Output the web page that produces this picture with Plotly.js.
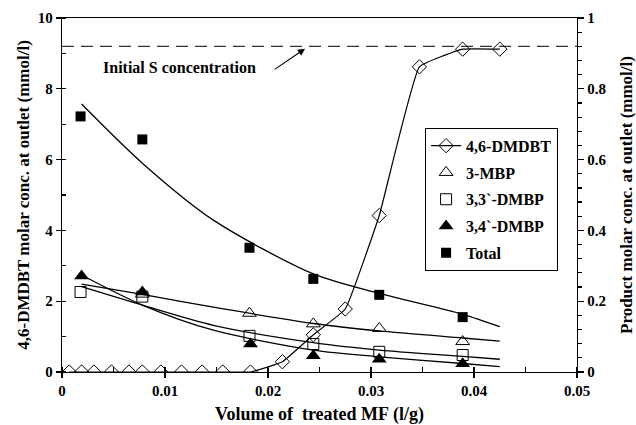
<!DOCTYPE html>
<html><head><meta charset="utf-8">
<script src="https://cdn.plot.ly/plotly-3.0.1.min.js"></script>
<style>html,body{margin:0;padding:0;background:#fff}#c{width:636px;height:425px}</style>
</head><body><div id="c"></div>
<script>
// 4,6-DMDBT (left axis, mmol/l)
const dmdbtX = [0.0007,0.0019,0.0031,0.0048,0.0065,0.0078,0.0096,0.0116,0.0136,0.0156,0.0183,0.0214,0.0244,0.0275,0.0308,0.0347,0.0389,0.0425];
const dmdbtY = [0,0,0,0,0,0,0,0,0,0,0,0.29,1.05,1.78,4.42,8.62,9.12,9.12];

// Products (right axis, mmol/l)
const mbpX = [0.0078,0.0182,0.0244,0.0308,0.0389];
const mbpY = [0.22,0.166,0.136,0.123,0.086];
const dmbp33X = [0.0018,0.0078,0.0182,0.0244,0.0308,0.0389];
const dmbp33Y = [0.226,0.213,0.102,0.079,0.057,0.048];
const dmbp34X = [0.0019,0.0078,0.0183,0.0244,0.0308,0.0389];
const dmbp34Y = [0.271,0.226,0.079,0.046,0.036,0.023];
const totalX = [0.0018,0.0078,0.0182,0.0244,0.0308,0.0389];
const totalY = [0.722,0.657,0.351,0.263,0.218,0.155];

// Trend curves (right axis)
const fitX = [0.0019,0.0078,0.0147,0.0244,0.0308,0.0389,0.0425];
const fitTotal = [0.757,0.59,0.429,0.277,0.222,0.163,0.128];
const fitMbp = [0.248,0.219,0.183,0.137,0.116,0.096,0.087];
const fit33 = [0.241,0.189,0.132,0.083,0.062,0.044,0.036];
const fit34 = [0.274,0.189,0.118,0.062,0.043,0.024,0.015];

// Initial S concentration (left axis)
const initX = [0, 0.05];
const initY = [9.2, 9.2];

const F = 'Liberation Serif';
const fitLine = {color:'#000', width:1.3, shape:'spline', smoothing:0.8};

const traces = [
  {x:initX, y:initY, mode:'lines', line:{color:'#333', width:1.3, dash:'12px,7px'}, showlegend:false, hoverinfo:'skip'},
  {x:fitX, y:fitTotal, yaxis:'y2', mode:'lines', line:fitLine, showlegend:false},
  {x:fitX, y:fitMbp, yaxis:'y2', mode:'lines', line:fitLine, showlegend:false},
  {x:fitX, y:fit33, yaxis:'y2', mode:'lines', line:fitLine, showlegend:false},
  {x:fitX, y:fit34, yaxis:'y2', mode:'lines', line:fitLine, showlegend:false},
  {x:dmdbtX, y:dmdbtY, name:'4,6-DMDBT', legendgroup:'a', mode:'lines+markers', line:{color:'#000', width:1.2, shape:'spline', smoothing:0.3},
   marker:{symbol:'diamond-open', size:11, color:'#000', line:{width:1}}},
  {x:mbpX, y:mbpY, yaxis:'y2', name:'3-MBP', legendgroup:'b', mode:'markers', marker:{symbol:'triangle-up-open', size:12, color:'#000', line:{width:1}}},
  {x:dmbp33X, y:dmbp33Y, yaxis:'y2', name:'3,3`-DMBP', legendgroup:'c', mode:'markers', marker:{symbol:'square-open', size:11, color:'#000', line:{width:1}}},
  {x:dmbp34X, y:dmbp34Y, yaxis:'y2', name:'3,4`-DMBP', legendgroup:'d', mode:'markers', marker:{symbol:'triangle-up', size:13, color:'#000'}},
  {x:totalX, y:totalY, yaxis:'y2', name:'Total', legendgroup:'e', mode:'markers', marker:{symbol:'square', size:10, color:'#000'}}
];

const layout = {
  width:636, height:425,
  margin:{l:62, r:59, t:18, b:53},
  paper_bgcolor:'#fff', plot_bgcolor:'#fff',
  font:{family:F, size:15, color:'#000', weight:'bold'},
  showlegend:true,
  legend:{x:0.705, y:0.69, xanchor:'left', yanchor:'top', bgcolor:'#fff', bordercolor:'#000', borderwidth:1,
    font:{family:F, size:16, color:'#000', weight:'bold'}, traceorder:'grouped', tracegroupgap:3},
  xaxis:{range:[0,0.05], dtick:0.01, tickformat:'~g', showgrid:false, zeroline:false,
    showline:true, linecolor:'#000', linewidth:1.3, mirror:true,
    ticks:'outside', ticklen:5, tickcolor:'#000', tickwidth:1.2,
    minor:{dtick:0.005, ticks:'inside', ticklen:5, tickcolor:'#000'},
    tickfont:{family:F, size:15, weight:'bold'},
    title:{text:'Volume of  treated MF (l/g)', font:{family:F, size:18, weight:'bold'}, standoff:12}},
  yaxis:{range:[0,10], dtick:2, showgrid:false, zeroline:false,
    showline:true, linecolor:'#000', linewidth:1.3,
    ticks:'outside', ticklen:5, tickcolor:'#000', tickwidth:1.2,
    minor:{dtick:1, ticks:'inside', ticklen:4, tickcolor:'#000'},
    tickfont:{family:F, size:15, weight:'bold'},
    title:{text:'4,6-DMDBT molar conc. at outlet (mmol/l)', font:{family:F, size:17, weight:'bold'}, standoff:3}},
  yaxis2:{range:[0,1], dtick:0.2, tickformat:'~g', overlaying:'y', side:'right', showgrid:false, zeroline:false,
    showline:true, linecolor:'#000', linewidth:1.3,
    ticks:'outside', ticklen:6, tickcolor:'#000', tickwidth:1.2,
    minor:{dtick:0.04, ticks:'outside', ticklen:4, tickcolor:'#000'},
    tickfont:{family:F, size:15, weight:'bold'},
    title:{text:'Product molar conc. at outlet (mmol/l)', font:{family:F, size:17, weight:'bold'}, standoff:14}},
  annotations:[
    {x:0.01136, y:8.59, xref:'x', yref:'y', text:'Initial S concentration', showarrow:false,
     font:{family:F, size:16, weight:'bold', color:'#000'}},
    {x:0.0236, y:9.13, ax:0.0205, ay:8.52, xref:'x', yref:'y', axref:'x', ayref:'y', text:'', showarrow:true,
     arrowhead:2, arrowsize:1.2, arrowwidth:1.2, arrowcolor:'#000'}
  ]
};

Plotly.newPlot('c', traces, layout, {displayModeBar:false, staticPlot:true});
</script></body></html>
